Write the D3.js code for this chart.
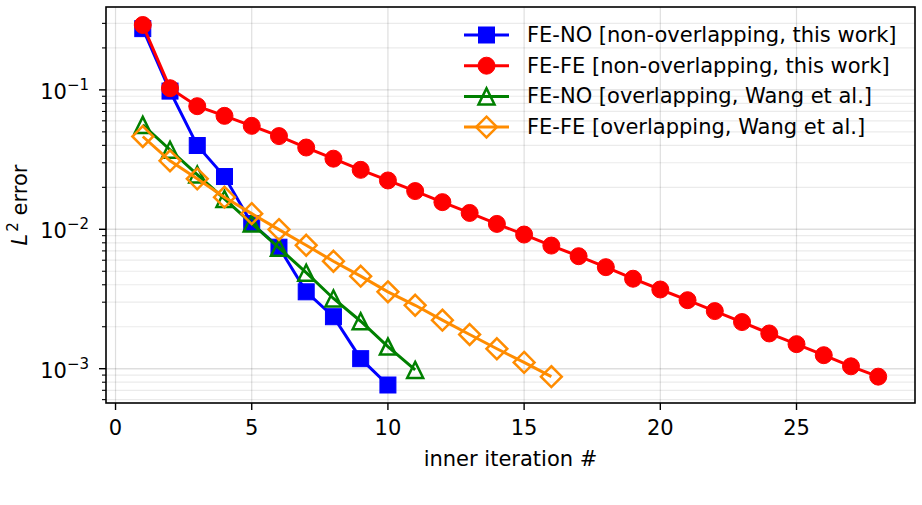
<!DOCTYPE html>
<meta charset="utf-8">
<style>
body { margin: 0; background: #fff; }
text { font-family: "DejaVu Sans", sans-serif; fill: #000; }
</style>
<svg width="922" height="505"></svg>
<script src="https://cdn.jsdelivr.net/npm/d3@7"></script>
<script>

// iteration numbers and L2 errors
var feNoNonOverlap = [0.275, 0.098, 0.0399, 0.0239, 0.0110, 0.00744, 0.00356, 0.00236, 0.00118, 0.000764];
var feFeNonOverlap = [0.292, 0.1028, 0.0764, 0.0651, 0.0552, 0.0466, 0.0386, 0.0321, 0.0267, 0.0224,
                      0.0188, 0.01566, 0.0131, 0.01093, 0.00917, 0.00764, 0.00641, 0.00535, 0.00442, 0.0037,
                      0.0031, 0.00259, 0.00216, 0.00179, 0.0015, 0.00125, 0.00104, 0.000877];
var feNoOverlap = [0.0561, 0.0372, 0.0247, 0.0165, 0.0110, 0.00736, 0.00488, 0.00319, 0.00219, 0.00144, 0.00098];
var feFeOverlap = [0.0463, 0.031, 0.023, 0.017, 0.01295, 0.00995, 0.00768, 0.0059, 0.00461, 0.00356,
                   0.00285, 0.00223, 0.00176, 0.00139, 0.00111, 0.000877];

var seriesNames = ["FE-NO [non-overlapping, this work]", "FE-FE [non-overlapping, this work]",
                   "FE-NO [overlapping, Wang et al.]", "FE-FE [overlapping, Wang et al.]"];
var seriesColors = ["#0000ff", "#ff0000", "#008000", "#ff8c00"];
var seriesMarkers = ["square", "circle", "triangle", "diamond"];
var xTicks = [0, 5, 10, 15, 20, 25];
var yTickExps = [-3, -2, -1];

var series = [feNoNonOverlap, feFeNonOverlap, feNoOverlap, feFeOverlap].map(function (vals, i) {
  return {
    name: seriesNames[i], color: seriesColors[i], marker: seriesMarkers[i],
    points: vals.map(function (v, j) { return {x: j + 1, y: v}; })
  };
});

var svg = d3.select("svg");
var pLeft = 106, pRight = 915, pTop = 7, pBottom = 403;
var fs = 21;

// matplotlib-like 5% margins
var allPts = d3.merge(series.map(function (s) { return s.points; }));
var xmin = d3.min(allPts, function (d) { return d.x; }), xmax = d3.max(allPts, function (d) { return d.x; });
var xpad = (xmax - xmin) * 0.05;
var lmin = Math.log10(d3.min(allPts, function (d) { return d.y; }));
var lmax = Math.log10(d3.max(allPts, function (d) { return d.y; }));
var lpad = (lmax - lmin) * 0.05;

var x = d3.scaleLinear().domain([xmin - xpad, xmax + xpad]).range([pLeft, pRight]);
var y = d3.scaleLog().domain([Math.pow(10, lmin - lpad), Math.pow(10, lmax + lpad)]).range([pBottom, pTop]);

// minor ticks on y
var minorVals = [];
for (var e = -4; e <= 0; e++) {
  for (var k = 2; k <= 9; k++) {
    var v = k * Math.pow(10, e);
    if (v > y.domain()[0] && v < y.domain()[1]) minorVals.push(v);
  }
}
var majorVals = yTickExps.map(function (p) { return Math.pow(10, p); });

// grid
var grid = svg.append("g");
grid.selectAll(".ymin").data(minorVals).enter().append("line")
    .attr("x1", pLeft).attr("x2", pRight)
    .attr("y1", function (d) { return y(d); }).attr("y2", function (d) { return y(d); })
    .attr("stroke", "#000").attr("stroke-opacity", 0.08).attr("stroke-width", 1.2);
grid.selectAll(".ymaj").data(majorVals).enter().append("line")
    .attr("x1", pLeft).attr("x2", pRight)
    .attr("y1", function (d) { return y(d); }).attr("y2", function (d) { return y(d); })
    .attr("stroke", "#000").attr("stroke-opacity", 0.13).attr("stroke-width", 1.4);
grid.selectAll(".xmaj").data(xTicks).enter().append("line")
    .attr("y1", pTop).attr("y2", pBottom)
    .attr("x1", function (d) { return x(d); }).attr("x2", function (d) { return x(d); })
    .attr("stroke", "#000").attr("stroke-opacity", 0.13).attr("stroke-width", 1.2);

// markers
function drawMarker(g, type, color, size) {
  var h = size / 2;
  if (type === "square") {
    g.append("rect").attr("x", -h).attr("y", -h).attr("width", size).attr("height", size)
        .attr("fill", color).attr("stroke", color).attr("stroke-width", 1);
  } else if (type === "circle") {
    g.append("circle").attr("r", h + 0.5).attr("fill", color).attr("stroke", color).attr("stroke-width", 1);
  } else if (type === "triangle") {
    g.append("path").attr("d", "M0," + (-h) + "L" + h + "," + h + "L" + (-h) + "," + h + "Z")
        .attr("fill", "none").attr("stroke", color).attr("stroke-width", 2.5);
  } else if (type === "diamond") {
    var r = h * 1.3;
    g.append("path").attr("d", "M0," + (-r) + "L" + r + ",0L0," + r + "L" + (-r) + ",0Z")
        .attr("fill", "none").attr("stroke", color).attr("stroke-width", 2.5);
  }
}

var line = d3.line().x(function (d) { return x(d.x); }).y(function (d) { return y(d.y); });
var plot = svg.append("g");
series.forEach(function (s) {
  var g = plot.append("g");
  g.append("path").datum(s.points).attr("d", line)
      .attr("fill", "none").attr("stroke", s.color).attr("stroke-width", 3);
  g.selectAll(".m").data(s.points).enter().append("g")
      .attr("transform", function (d) { return "translate(" + x(d.x) + "," + y(d.y) + ")"; })
      .each(function () { drawMarker(d3.select(this), s.marker, s.color, 16); });
});

// ticks
var ax = svg.append("g");
ax.selectAll(".xt").data(xTicks).enter().append("line")
    .attr("x1", function (d) { return x(d); }).attr("x2", function (d) { return x(d); })
    .attr("y1", pBottom).attr("y2", pBottom + 7).attr("stroke", "#000").attr("stroke-width", 1.4);
ax.selectAll(".xl").data(xTicks).enter().append("text")
    .attr("x", function (d) { return x(d); }).attr("y", pBottom + 32)
    .attr("text-anchor", "middle").attr("font-size", fs).text(function (d) { return d; });

ax.selectAll(".ymt").data(minorVals).enter().append("line")
    .attr("x1", pLeft - 4).attr("x2", pLeft)
    .attr("y1", function (d) { return y(d); }).attr("y2", function (d) { return y(d); })
    .attr("stroke", "#000").attr("stroke-width", 1.1);
ax.selectAll(".yMt").data(majorVals).enter().append("line")
    .attr("x1", pLeft - 7).attr("x2", pLeft)
    .attr("y1", function (d) { return y(d); }).attr("y2", function (d) { return y(d); })
    .attr("stroke", "#000").attr("stroke-width", 1.4);
var yl = ax.selectAll(".yl").data(yTickExps).enter().append("text")
    .attr("x", pLeft - 17).attr("y", function (d) { return y(Math.pow(10, d)) + 9; })
    .attr("text-anchor", "end").attr("font-size", fs);
yl.append("tspan").text("10");
yl.append("tspan").attr("dy", -9).attr("font-size", 15).text(function (d) { return "\u2212" + Math.abs(d); });

// frame
svg.append("rect").attr("x", pLeft).attr("y", pTop).attr("width", pRight - pLeft).attr("height", pBottom - pTop)
    .attr("fill", "none").attr("stroke", "#000").attr("stroke-width", 1.6);

// axis labels
svg.append("text").attr("x", (pLeft + pRight) / 2).attr("y", 466)
    .attr("text-anchor", "middle").attr("font-size", fs).text("inner iteration #");
var ylab = svg.append("text").attr("transform", "translate(27," + ((pTop + pBottom) / 2) + ") rotate(-90)")
    .attr("text-anchor", "middle").attr("font-size", fs);
ylab.append("tspan").attr("font-style", "italic").text("L");
ylab.append("tspan").attr("dy", -9).attr("dx", 2).attr("font-size", 15).text("2");
ylab.append("tspan").attr("dy", 9).text(" error");

// legend
var leg = svg.append("g");
series.forEach(function (s, i) {
  var ry = 35 + i * 30.7;
  var g = leg.append("g").attr("transform", "translate(0," + ry + ")");
  g.append("line").attr("x1", 464).attr("x2", 509).attr("stroke", s.color).attr("stroke-width", 3);
  drawMarker(g.append("g").attr("transform", "translate(486.5,0)"), s.marker, s.color, 16);
  g.append("text").attr("x", 527).attr("y", 7).attr("font-size", fs).text(s.name);
});

</script>
